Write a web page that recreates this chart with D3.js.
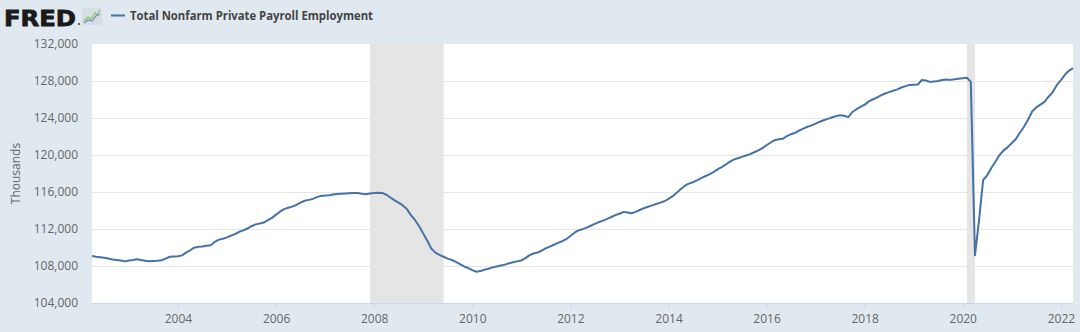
<!DOCTYPE html>
<html>
<head>
<meta charset="utf-8">
<script src="https://cdn.jsdelivr.net/npm/d3@7"></script>
<style>
  html, body { margin: 0; padding: 0; background: #e1e9f0; }
  svg { display: block; font-family: "Open Sans", "Noto Sans", sans-serif; }
</style>
</head>
<body>
<svg id="chart" width="1080" height="332"></svg>
<script>
// first month of the series, one value per month after it
const startMonth = "2002-04";
// private payrolls, thousands
const values2002 = [109080, 109000, 108950, 108880, 108800, 108700, 108650, 108600, 108500];
const values2003 = [108600, 108650, 108720, 108650, 108560, 108520, 108540, 108560, 108620, 108800, 109000, 109020];
const values2004 = [109050, 109150, 109450, 109700, 109980, 110080, 110120, 110180, 110250, 110600, 110850, 110950];
const values2005 = [111100, 111300, 111450, 111700, 111850, 112050, 112300, 112500, 112600, 112700, 112950, 113200];
const values2006 = [113550, 113900, 114150, 114300, 114420, 114600, 114850, 115050, 115150, 115250, 115450, 115580];
const values2007 = [115620, 115650, 115720, 115780, 115820, 115840, 115860, 115880, 115900, 115820, 115760, 115830];
const values2008 = [115880, 115920, 115900, 115700, 115400, 115100, 114850, 114550, 114150, 113500, 112950, 112300];
const values2009 = [111500, 110700, 109900, 109450, 109200, 109000, 108800, 108650, 108450, 108200, 107950, 107780];
const values2010 = [107550, 107380, 107450, 107600, 107700, 107850, 107950, 108050, 108150, 108300, 108400, 108500];
const values2011 = [108600, 108850, 109150, 109350, 109450, 109650, 109900, 110100, 110300, 110500, 110680, 110900];
const values2012 = [111250, 111600, 111850, 111980, 112150, 112350, 112550, 112750, 112900, 113100, 113300, 113500];
const values2013 = [113650, 113850, 113780, 113700, 113850, 114050, 114250, 114400, 114550, 114700, 114850, 115000];
const values2014 = [115250, 115550, 115900, 116300, 116650, 116900, 117050, 117250, 117500, 117700, 117900, 118150];
const values2015 = [118450, 118700, 118950, 119250, 119500, 119650, 119800, 119950, 120100, 120300, 120500, 120750];
const values2016 = [121050, 121350, 121600, 121700, 121750, 122050, 122250, 122400, 122650, 122850, 123050, 123200];
const values2017 = [123400, 123600, 123750, 123900, 124050, 124200, 124300, 124250, 124100, 124650, 124950, 125200];
const values2018 = [125450, 125800, 126000, 126200, 126450, 126650, 126800, 126950, 127100, 127300, 127450, 127580];
const values2019 = [127600, 127620, 128100, 128050, 127900, 127950, 128000, 128100, 128150, 128120, 128200, 128250];
const values2020 = [128300, 128350, 127900, 109160, 112900, 117300, 117800, 118600, 119300, 120000, 120500, 120850];
const values2021 = [121300, 121750, 122400, 123050, 123800, 124700, 125150, 125450, 125750, 126300, 126800, 127550];
const values2022 = [128100, 128700, 129100, 129400];

// NBER recessions shown as grey bands
const recessionStarts = ["2007-12", "2020-02"];
const recessionEnds = ["2009-06", "2020-04"];

const yTicks = [104000, 108000, 112000, 116000, 120000, 124000, 128000, 132000];
const xTickYears = [2004, 2006, 2008, 2010, 2012, 2014, 2016, 2018, 2020, 2022];

const seriesTitle = "Total Nonfarm Private Payroll Employment";
const yTitle = "Thousands";

const parseMonth = d3.timeParse("%Y-%m");
const allValues = [].concat(values2002, values2003, values2004, values2005, values2006,
  values2007, values2008, values2009, values2010, values2011, values2012, values2013,
  values2014, values2015, values2016, values2017, values2018, values2019, values2020,
  values2021, values2022);
const data = allValues.map((v, i) => ({ date: d3.timeMonth.offset(parseMonth(startMonth), i), value: v }));

const svg = d3.select("#chart");
const margin = { left: 92, right: 7, top: 44, bottom: 29 };
const W = 1080, H = 332;

const x = d3.scaleTime()
  .domain(d3.extent(data, d => d.date))
  .range([margin.left, W - margin.right]);
const y = d3.scaleLinear()
  .domain([yTicks[0], yTicks[yTicks.length - 1]])
  .range([H - margin.bottom, margin.top]);

// plot background
svg.append("rect")
  .attr("x", margin.left).attr("y", margin.top)
  .attr("width", W - margin.left - margin.right)
  .attr("height", H - margin.top - margin.bottom)
  .attr("fill", "#ffffff");

// recession bands
svg.append("g").selectAll("rect")
  .data(recessionStarts.map((s, i) => [parseMonth(s), parseMonth(recessionEnds[i])]))
  .join("rect")
  .attr("x", d => x(d[0]))
  .attr("width", d => x(d[1]) - x(d[0]))
  .attr("y", margin.top)
  .attr("height", H - margin.top - margin.bottom)
  .attr("fill", "#e5e5e5");

// gridlines
svg.append("g").selectAll("line")
  .data(yTicks.slice(1, -1))
  .join("line")
  .attr("x1", margin.left).attr("x2", W - margin.right)
  .attr("y1", d => Math.round(y(d)) + 0.5).attr("y2", d => Math.round(y(d)) + 0.5)
  .attr("stroke", "#e6e6e6");

// y axis labels
const yAxis = svg.append("g")
  .attr("transform", `translate(${margin.left - 14},0)`)
  .call(d3.axisLeft(y).tickValues(yTicks).tickSize(0).tickPadding(0).tickFormat(d3.format(",")));
yAxis.select(".domain").remove();
yAxis.selectAll("text")
  .attr("fill", "#666666")
  .attr("font-size", 12)
  .attr("font-family", "'Open Sans', sans-serif");

svg.append("text")
  .attr("transform", `translate(20,${(margin.top + H - margin.bottom) / 2}) rotate(-90)`)
  .attr("text-anchor", "middle")
  .attr("fill", "#666666")
  .attr("font-size", 12)
  .text(yTitle);

// x axis
const xAxis = svg.append("g")
  .attr("transform", `translate(0,${H - margin.bottom})`)
  .call(d3.axisBottom(x)
    .tickValues(xTickYears.map(yr => new Date(yr, 0, 1)))
    .tickSize(5).tickPadding(6)
    .tickFormat(d3.timeFormat("%Y")));
xAxis.select(".domain")
  .attr("d", `M${margin.left},0.5H${W - margin.right}`)
  .attr("stroke", "#ccd6eb");
xAxis.selectAll(".tick line").attr("stroke", "#ccd6eb");
xAxis.selectAll("text")
  .attr("fill", "#666666")
  .attr("font-size", 12)
  .attr("font-family", "'Open Sans', sans-serif");

// series line
svg.append("path")
  .datum(data)
  .attr("fill", "none")
  .attr("stroke", "#4572a7")
  .attr("stroke-width", 2)
  .attr("stroke-linejoin", "round")
  .attr("d", d3.line().x(d => x(d.date)).y(d => y(d.value)));

// header: FRED logo, small icon, legend
const head = svg.append("g");
head.append("text")
  .attr("x", 4).attr("y", 25.5)
  .attr("font-family", "'DejaVu Sans', sans-serif")
  .attr("font-weight", 700)
  .attr("font-size", 22)
  .attr("textLength", 72)
  .attr("lengthAdjust", "spacingAndGlyphs")
  .attr("fill", "#1a1a1a")
  .attr("stroke", "#1a1a1a")
  .attr("stroke-width", 0.8)
  .text("FRED");
head.append("circle").attr("cx", 79).attr("cy", 24).attr("r", 1).attr("fill", "#333");
head.append("rect")
  .attr("x", 82).attr("y", 8).attr("width", 20).attr("height", 17).attr("rx", 2)
  .attr("fill", "#d6dde3");
head.append("path")
  .attr("d", "M84,21 L88,17 L91,19 L95,13 L97,15 L100,10")
  .attr("fill", "none").attr("stroke", "#8bbf5a").attr("stroke-width", 1.2);
head.append("path")
  .attr("d", "M84,23 L88,20 L92,21 L96,16 L100,14")
  .attr("fill", "none").attr("stroke", "#6d8fbf").attr("stroke-width", 1.2);
head.append("line")
  .attr("x1", 111).attr("x2", 125).attr("y1", 15.5).attr("y2", 15.5)
  .attr("stroke", "#4572a7").attr("stroke-width", 2);
head.append("text")
  .attr("x", 130).attr("y", 19.5)
  .attr("font-size", 12)
  .attr("font-weight", 700)
  .attr("textLength", 243)
  .attr("lengthAdjust", "spacingAndGlyphs")
  .attr("fill", "#444444")
  .text(seriesTitle);
</script>
</body>
</html>
